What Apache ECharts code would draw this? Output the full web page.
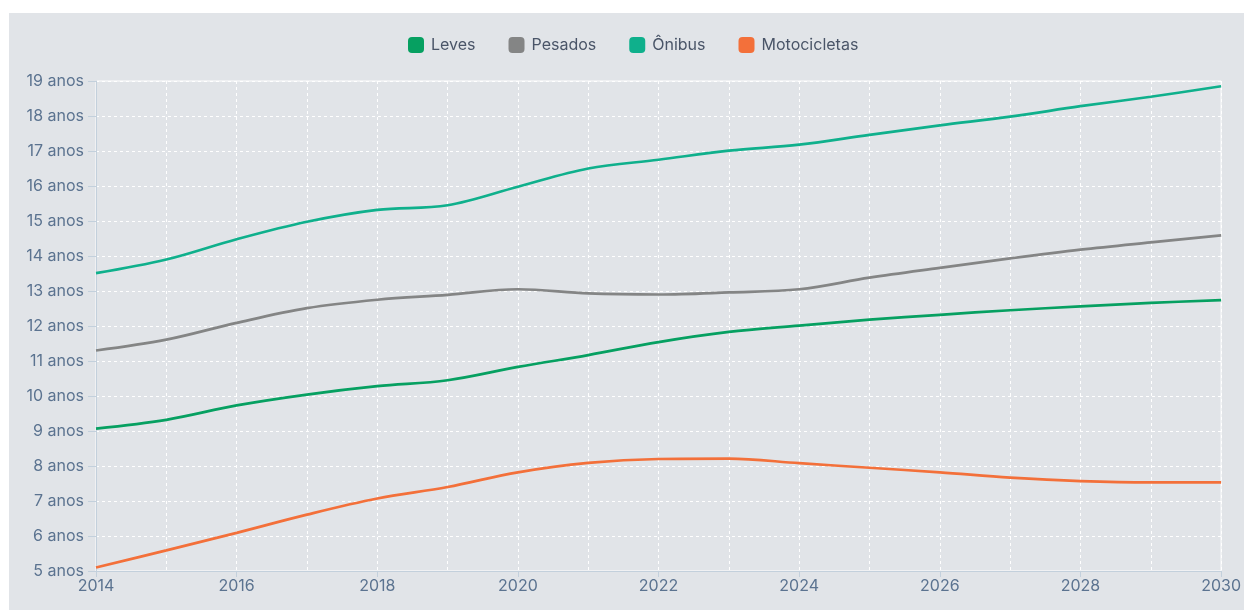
<!DOCTYPE html>
<html>
<head>
<meta charset="utf-8">
<script src="https://cdn.jsdelivr.net/npm/echarts@6/dist/echarts.min.js"></script>
<style>
  html, body { margin: 0; padding: 0; background: #ffffff; width: 1244px; height: 610px; overflow: hidden; }
  #panel { position: absolute; left: 9px; top: 13px; width: 1235px; height: 597px; background: #e1e4e8; }
  #chart { width: 1235px; height: 597px; }
</style>
</head>
<body>
<div id="panel"><div id="chart"></div></div>
<script>
const years = ['2014','2015','2016','2017','2018','2019','2020','2021','2022','2023','2024','2025','2026','2027','2028','2029','2030'];
const leves = [9.07, 9.32, 9.73, 10.04, 10.28, 10.45, 10.83, 11.17, 11.54, 11.83, 12.01, 12.18, 12.32, 12.45, 12.56, 12.66, 12.74];
const pesados = [11.30, 11.61, 12.09, 12.51, 12.75, 12.89, 13.05, 12.93, 12.90, 12.96, 13.05, 13.38, 13.66, 13.93, 14.18, 14.39, 14.59];
const onibus = [13.51, 13.90, 14.48, 14.98, 15.32, 15.45, 15.98, 16.50, 16.75, 17.01, 17.18, 17.46, 17.73, 17.98, 18.28, 18.55, 18.85];
const motos = [5.10, 5.59, 6.09, 6.61, 7.07, 7.40, 7.82, 8.09, 8.20, 8.21, 8.08, 7.95, 7.82, 7.67, 7.57, 7.53, 7.53];
const seriesNames = ['Leves', 'Pesados', 'Ônibus', 'Motocicletas'];
const yMin = 5, yMax = 19, yStep = 1;

const colors = ['#06a061', '#848585', '#0fb08c', '#f3703a'];
const chart = echarts.init(document.getElementById('chart'), null, { renderer: 'canvas' });
const mk = (name, data, color) => ({
  name, type: 'line', data, smooth: 0.35, symbol: 'none', showSymbol: false,
  lineStyle: { width: 2.7, color }, itemStyle: { color }
});
chart.setOption({
  animation: false,
  textStyle: { fontFamily: 'Inter, "Noto Sans", sans-serif' },
  legend: {
    top: 19, left: 394,
    icon: 'roundRect', itemWidth: 16, itemHeight: 16, itemGap: 33,
    textStyle: { color: '#4a5568', fontSize: 16, fontFamily: 'Inter', padding: [0, 0, 0, 2] },
    data: seriesNames
  },
  grid: { left: 87, right: 22, top: 68, bottom: 39, show: true, borderColor: '#ffffff', borderWidth: 1, backgroundColor: 'transparent' },
  xAxis: {
    type: 'category', data: years, boundaryGap: false,
    axisLine: { lineStyle: { color: '#c3d0dc', width: 1 } },
    axisTick: { interval: 1, length: 6, lineStyle: { color: '#c3d0dc' } },
    axisLabel: { interval: 1, color: '#5b7390', fontSize: 16, margin: 7, fontFamily: 'Inter' },
    splitLine: { show: true, interval: 0, lineStyle: { color: '#ffffff', type: [3, 3], width: 1 } }
  },
  yAxis: {
    type: 'value', min: yMin, max: yMax, interval: yStep,
    axisLine: { show: true, lineStyle: { color: '#c3d0dc', width: 1 } },
    axisTick: { show: true, length: 8, lineStyle: { color: '#c3d0dc' } },
    axisLabel: { color: '#5b7390', fontSize: 16, margin: 12, formatter: '{value} anos', fontFamily: 'Inter' },
    splitLine: { show: true, lineStyle: { color: '#ffffff', type: [3, 3], width: 1 } }
  },
  series: [
    mk(seriesNames[0], leves, colors[0]),
    mk(seriesNames[1], pesados, colors[1]),
    mk(seriesNames[2], onibus, colors[2]),
    mk(seriesNames[3], motos, colors[3])
  ]
});
</script>
</body>
</html>
